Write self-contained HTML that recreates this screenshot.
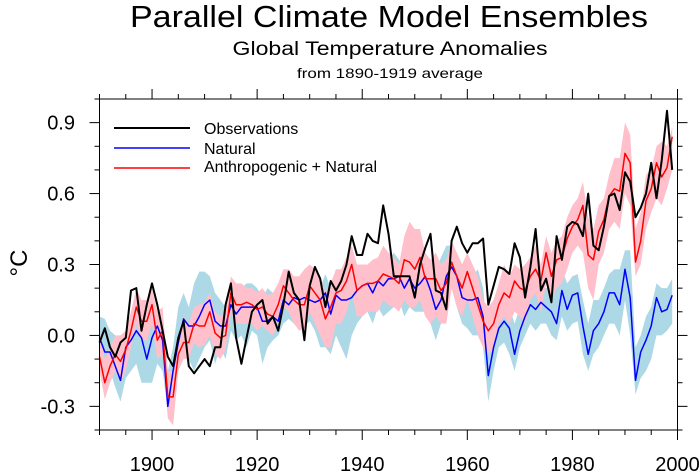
<!DOCTYPE html>
<html><head><meta charset="utf-8"><style>
html,body{margin:0;padding:0;background:#fff;}
svg{display:block;font-family:"Liberation Sans",Arial,sans-serif;}
</style></head><body>
<svg id="chart" width="700" height="472" viewBox="0 0 700 472" xmlns="http://www.w3.org/2000/svg">
<text x="389" y="27" font-size="31" text-anchor="middle" textLength="518" lengthAdjust="spacingAndGlyphs">Parallel Climate Model Ensembles</text>
<text x="390" y="55" font-size="19" text-anchor="middle" textLength="315" lengthAdjust="spacingAndGlyphs">Global Temperature Anomalies</text>
<text x="390" y="78" font-size="14" text-anchor="middle" textLength="186" lengthAdjust="spacingAndGlyphs">from 1890-1919 average</text>
<g id="bands"></g>
<g id="lines"></g>
<g id="axes"></g>
<text x="0" y="0" font-size="24" text-anchor="middle" transform="translate(27,263) rotate(-90)">°C</text>
<g>
<line x1="114" y1="128" x2="190" y2="128" stroke="#000" stroke-width="2"/>
<text x="204" y="134" font-size="16">Observations</text>
<line x1="114" y1="148" x2="190" y2="148" stroke="#0000ff" stroke-width="1.5"/>
<text x="204" y="154" font-size="16">Natural</text>
<line x1="114" y1="168" x2="190" y2="168" stroke="#ff0000" stroke-width="1.5"/>
<text x="204" y="172" font-size="16">Anthropogenic + Natural</text>
</g>
</svg>
<script>
const startYear = 1890;
const obs = [-0.03,0.03,-0.05,-0.09,-0.03,-0.01,0.19,0.20,0.02,0.13,0.22,0.13,0.02,-0.09,-0.13,-0.01,0.06,-0.13,-0.16,-0.13,-0.10,-0.13,-0.05,-0.05,0.13,0.22,-0.01,-0.12,-0.01,0.10,
0.13,0.15,0.05,0.08,0.02,0.13,0.27,0.18,0.15,-0.02,0.21,0.29,0.24,0.12,0.23,0.19,0.23,0.30,0.42,0.34,
0.34,0.43,0.40,0.39,0.55,0.43,0.25,0.25,0.25,0.25,0.16,0.30,0.37,0.43,0.19,0.18,0.11,0.40,0.46,0.39,
0.35,0.39,0.39,0.41,0.13,0.21,0.29,0.28,0.26,0.39,0.33,0.16,0.29,0.45,0.19,0.24,0.14,0.42,0.32,0.46,
0.48,0.47,0.42,0.60,0.38,0.36,0.46,0.59,0.60,0.53,0.69,0.65,0.50,0.54,0.60,0.73,0.58,0.74,0.95,0.70];
const natural = [-0.01,-0.07,-0.07,-0.13,-0.19,-0.05,-0.02,0.02,-0.01,-0.10,-0.01,0.04,-0.02,-0.30,-0.15,-0.03,0.07,0.04,0.04,0.08,0.13,0.15,0.06,0.04,0.04,0.13,0.09,0.12,0.12,0.12,
0.12,0.06,0.06,0.08,0.06,0.15,0.13,0.16,0.15,0.16,0.15,0.14,0.15,0.18,0.09,0.17,0.15,0.15,0.16,0.19,
0.21,0.22,0.18,0.23,0.21,0.24,0.24,0.25,0.20,0.24,0.20,0.22,0.25,0.19,0.11,0.15,0.25,0.29,0.25,0.16,
0.15,0.15,0.16,0.08,-0.17,-0.05,0.03,0.06,0.03,-0.08,0.02,0.08,0.13,0.11,0.14,0.12,0.10,0.05,0.19,0.11,
0.17,0.18,0.04,-0.08,0.02,0.05,0.10,0.18,0.18,0.13,0.28,0.16,-0.19,-0.07,-0.02,0.04,0.16,0.10,0.11,0.17];
const anthro = [-0.09,-0.20,-0.13,-0.08,-0.11,-0.06,0.02,0.12,0.06,0.06,0.13,-0.02,0.02,-0.26,-0.26,-0.08,-0.03,-0.03,0.05,0.04,0.04,0.10,0.01,-0.01,0.00,0.18,0.13,0.13,0.14,0.13,
0.11,0.12,0.09,0.08,0.13,0.21,0.18,0.15,0.13,0.13,0.21,0.18,0.15,0.07,0.12,0.18,0.19,0.23,0.30,0.19,
0.21,0.22,0.22,0.23,0.26,0.25,0.24,0.22,0.32,0.31,0.28,0.33,0.24,0.24,0.24,0.19,0.22,0.31,0.25,0.20,
0.27,0.20,0.13,0.06,0.02,0.05,0.13,0.18,0.16,0.23,0.20,0.19,0.25,0.28,0.23,0.35,0.25,0.32,0.33,0.41,
0.46,0.49,0.55,0.34,0.32,0.44,0.49,0.59,0.62,0.61,0.77,0.73,0.31,0.40,0.57,0.62,0.73,0.67,0.71,0.84];
const naturalHi = [0.08,0.07,0.02,0.0,-0.05,0.0,0.05,0.08,0.06,0.02,0.05,0.10,0.05,-0.15,-0.05,0.12,0.18,0.12,0.22,0.27,0.27,0.25,0.18,0.15,0.12,0.20,0.20,0.20,0.22,0.22,
0.20,0.16,0.20,0.18,0.20,0.24,0.26,0.24,0.22,0.23,0.24,0.22,0.20,0.26,0.20,0.28,0.26,0.25,0.30,0.28,
0.28,0.30,0.28,0.33,0.30,0.32,0.35,0.32,0.30,0.34,0.30,0.32,0.33,0.30,0.28,0.33,0.38,0.38,0.35,0.30,
0.26,0.25,0.28,0.20,-0.02,0.05,0.12,0.15,0.12,0.05,0.12,0.15,0.20,0.18,0.20,0.20,0.20,0.22,0.28,0.22,
0.25,0.26,0.15,0.05,0.15,0.15,0.20,0.26,0.28,0.28,0.36,0.36,-0.05,0.0,0.08,0.12,0.22,0.20,0.20,0.24];
const naturalLo = [-0.15,-0.20,-0.15,-0.22,-0.28,-0.18,-0.15,-0.12,-0.20,-0.20,-0.20,-0.12,-0.15,-0.32,-0.25,-0.15,-0.05,-0.10,-0.15,-0.10,-0.05,-0.02,-0.12,-0.05,-0.10,0.02,-0.02,0.0,-0.05,0.02,
0.0,-0.12,-0.05,-0.02,0.0,0.05,0.07,0.05,0.06,0.04,0.06,0.02,-0.05,-0.05,-0.08,0.0,-0.05,-0.10,0.0,0.05,
0.08,0.10,0.05,0.12,0.08,0.10,0.12,0.15,0.08,0.12,0.10,0.10,0.10,0.05,-0.02,0.05,0.12,0.20,0.12,0.05,
0.03,0.0,0.0,-0.05,-0.28,-0.15,-0.05,-0.03,-0.08,-0.15,-0.05,0.0,0.05,0.02,0.05,0.05,0.0,-0.02,0.08,0.02,
0.05,0.06,-0.08,-0.15,-0.08,-0.05,0.0,0.05,0.05,0.0,0.15,0.0,-0.25,-0.18,-0.15,-0.10,0.0,0.0,0.02,0.05];
const anthroHi = [0.02,-0.10,-0.05,0.0,0.0,0.02,0.10,0.20,0.15,0.15,0.20,0.10,0.12,-0.15,-0.15,0.0,0.08,0.05,0.12,0.13,0.14,0.18,0.10,0.08,0.10,0.25,0.22,0.22,0.20,0.20,
0.18,0.20,0.17,0.18,0.22,0.28,0.28,0.25,0.25,0.28,0.30,0.28,0.25,0.18,0.22,0.28,0.28,0.33,0.38,0.30,
0.30,0.30,0.32,0.33,0.38,0.35,0.33,0.30,0.42,0.48,0.45,0.45,0.35,0.32,0.35,0.30,0.32,0.40,0.35,0.30,
0.35,0.30,0.25,0.15,0.12,0.15,0.22,0.30,0.25,0.30,0.28,0.30,0.33,0.38,0.30,0.42,0.35,0.40,0.42,0.50,
0.55,0.58,0.65,0.50,0.45,0.55,0.58,0.68,0.75,0.75,0.90,0.85,0.45,0.52,0.68,0.70,0.80,0.82,0.80,0.88];
const anthroLo = [-0.15,-0.27,-0.20,-0.15,-0.20,-0.15,-0.05,0.05,-0.02,-0.02,0.05,-0.10,-0.08,-0.35,-0.38,-0.15,-0.10,-0.10,-0.03,-0.05,-0.04,0.0,-0.08,-0.10,-0.06,0.10,0.05,0.05,0.05,0.05,
0.02,0.04,0.02,0.0,0.05,0.12,0.10,0.05,0.02,0.03,0.10,0.05,0.0,-0.05,-0.05,0.05,0.05,0.10,0.18,0.08,
0.08,0.10,0.10,0.10,0.15,0.13,0.12,0.10,0.15,0.12,0.12,0.15,0.08,0.05,0.08,0.05,0.05,0.20,0.12,0.08,
0.15,0.08,0.0,-0.05,-0.08,-0.05,0.05,0.08,0.05,0.10,0.08,0.05,0.15,0.18,0.10,0.22,0.15,0.20,0.22,0.28,
0.35,0.38,0.35,0.20,0.15,0.30,0.35,0.45,0.48,0.45,0.60,0.55,0.25,0.30,0.45,0.52,0.58,0.55,0.62,0.70];
const yTickValues = [-0.3,0.0,0.3,0.6,0.9];
const yTickLabels = ["-0.3","0.0","0.3","0.6","0.9"];
const xTickValues = [1900,1920,1940,1960,1980,2000];
const xTickLabels = ["1900","1920","1940","1960","1980","2000"];

const NS = "http://www.w3.org/2000/svg";
const L = 99.5, R = 677.5, T = 99, B = 430;
const xMin = 1890, xMax = 2000, yMin = -0.4, yMax = 1.0;
function xs(v){ return L + (v - xMin) / (xMax - xMin) * (R - L); }
function ys(v){ return B - (v - yMin) / (yMax - yMin) * (B - T); }
function mk(tag, attrs, parent){
  const e = document.createElementNS(NS, tag);
  for (const k in attrs) e.setAttribute(k, attrs[k]);
  parent.appendChild(e);
  return e;
}
function linePts(arr){ return arr.map((v,i)=>xs(startYear+i).toFixed(1)+","+ys(v).toFixed(1)).join(" "); }
function bandPts(hi, lo){
  const a = hi.map((v,i)=>xs(startYear+i).toFixed(1)+","+ys(v).toFixed(1));
  const b = lo.map((v,i)=>xs(startYear+i).toFixed(1)+","+ys(v).toFixed(1)).reverse();
  return a.concat(b).join(" ");
}
const bands = document.getElementById('bands');
const nb = mk('polygon', {points: bandPts(naturalHi, naturalLo), fill: '#add8e6'}, bands);


const ab = mk('polygon', {points: bandPts(anthroHi, anthroLo), fill: '#ffc0cb'}, bands);



const lines = document.getElementById('lines');
const nl = mk('polyline', {points: linePts(natural), fill: 'none', stroke: '#0000ff', 'stroke-width': 1.5, 'stroke-linejoin': 'round'}, lines);


const al = mk('polyline', {points: linePts(anthro), fill: 'none', stroke: '#ff0000', 'stroke-width': 1.5, 'stroke-linejoin': 'round'}, lines);


const ol = mk('polyline', {points: linePts(obs), fill: 'none', stroke: '#000', 'stroke-width': 2, 'stroke-linejoin': 'round'}, lines);



const axes = document.getElementById('axes');
const frame = mk('rect', {x: L, y: T, width: R-L, height: B-T, fill: 'none', stroke: '#000', 'stroke-width': 1}, axes);


for (let yr = 1890; yr <= 2000; yr += 5) {
  const major = (yr % 20 === 0);
  const len = major ? 10 : 5;
  const x = xs(yr);
  mk('line', {x1: x, y1: B, x2: x, y2: B + len, stroke: '#000', 'stroke-width': 1}, axes);
  mk('line', {x1: x, y1: T, x2: x, y2: T - len, stroke: '#000', 'stroke-width': 1}, axes);
}
for (let k = -4; k <= 10; k++) {
  const v = k / 10;
  const major = (k % 3 === 0);
  const len = major ? 10 : 5;
  const y = ys(v);
  mk('line', {x1: L, y1: y, x2: L - len, y2: y, stroke: '#000', 'stroke-width': 1}, axes);
  mk('line', {x1: R, y1: y, x2: R + len, y2: y, stroke: '#000', 'stroke-width': 1}, axes);
}
yTickValues.forEach((v,i)=>{
  const t = mk('text', {x: 75, y: ys(v) + 7, 'font-size': 20, 'text-anchor': 'end'}, axes);
  t.textContent = yTickLabels[i];
  
  
});
xTickValues.forEach((v,i)=>{
  const t = mk('text', {x: xs(v), y: 471, 'font-size': 20, 'text-anchor': 'middle'}, axes);
  t.textContent = xTickLabels[i];
  
  
});
</script>
</body></html>
